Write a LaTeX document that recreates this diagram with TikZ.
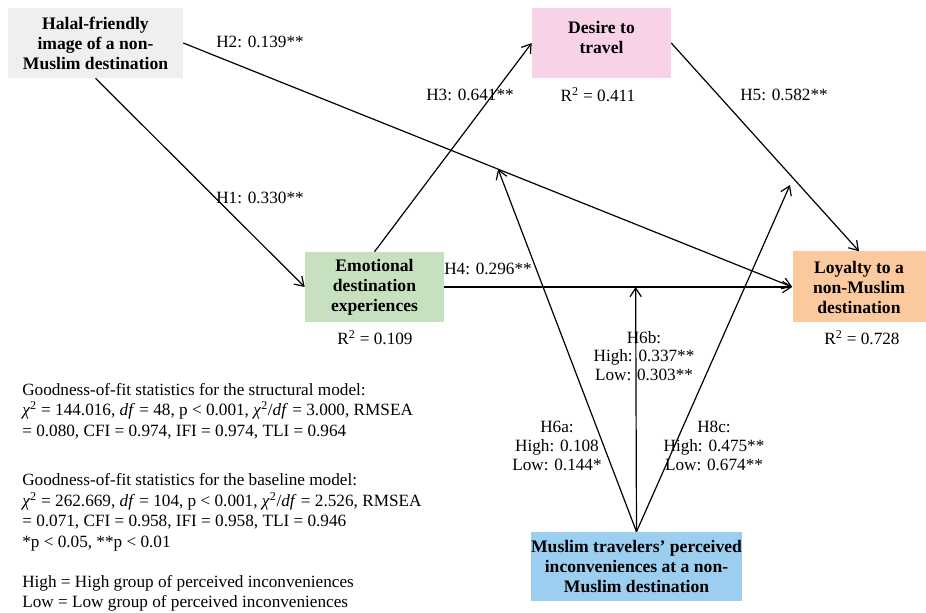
\documentclass[tikz,border=0pt]{standalone}
\usepackage{fontspec}
\setmainfont{Liberation Serif}
\usetikzlibrary{positioning,arrows.meta,calc}

\definecolor{halgray}{RGB}{239,239,239}
\definecolor{despink}{RGB}{248,210,230}
\definecolor{emogreen}{RGB}{199,225,192}
\definecolor{loypeach}{RGB}{250,202,158}
\definecolor{musblue}{RGB}{156,206,240}

\begin{document}
\begin{tikzpicture}[x=0.75pt,y=0.75pt,yscale=-1,xscale=1,
  box/.style={fill=#1, align=center, inner sep=0pt, font=\bfseries\fontsize{13.2}{15}\selectfont},
  lbl/.style={align=center, inner sep=1pt, font=\fontsize{12.9}{14}\selectfont},
  hyp/.style={-{Straight Barb[length=6.5pt,width=8.5pt]}, line width=0.9pt}]
\useasboundingbox (0,0) rectangle (926,613);

%Boxes
\node[box=halgray, minimum width=131.25pt, minimum height=52.5pt] (hal) at (95.5,43) {Halal-friendly\\image of a non-\\Muslim destination};
\node[box=despink, minimum width=104.25pt, minimum height=52.5pt] (des) at (601.5,43) {Desire to\\travel\\[-6pt]\mbox{}};
\node[box=emogreen, minimum width=104.25pt, minimum height=52.5pt] (emo) at (374.5,287) {Emotional\\destination\\experiences};
\node[box=loypeach, minimum width=99.75pt, minimum height=53.25pt] (loy) at (859,287) {Loyalty to a\\non-Muslim\\destination};
\node[box=musblue, minimum width=158.25pt, minimum height=51.75pt] (mus) at (636.5,566.5) {Muslim travelers’ perceived\\inconveniences at a non-\\Muslim destination};

%Points on the paths
\coordinate (m6a) at ($(hal.east)!0.517!(loy.west)$);
\coordinate (m6b) at ($(emo.east)!0.55!(loy.west)$);
\coordinate (m8c) at (790,185);

%Paths
\draw[hyp] (hal.south) -- (emo.west);
\draw[hyp] (hal.east) -- (loy.west);
\draw[hyp] (emo.north) -- (des.west);
\draw[hyp] (emo.east) -- (loy.west);
\draw[hyp] (des.east) -- (loy.north);
\draw[hyp] (mus.north) -- (m6a);
\draw[hyp] (mus.north) -- (m6b);
\draw[hyp] (mus.north) -- (m8c);

%Coefficients
\node[lbl] (h1) at (260,198) {H1: 0.330**};
\node[lbl] (h2) at (260,42) {H2: 0.139**};
\node[lbl] (h3) at (470,95) {H3: 0.641**};
\node[lbl] (h4) at (488,269) {H4: 0.296**};
\node[lbl] (h5) at (784,95) {H5: 0.582**};
\node[lbl] (h6a) at (557,446) {H6a:\\High: 0.108\\Low: 0.144*};
\node[lbl] (h6b) at (644,356) {H6b:\\High: 0.337**\\Low: 0.303**};
\node[lbl] (h8c) at (714,446) {H8c:\\High: 0.475**\\Low: 0.674**};
\node[lbl] (r2des) at (598,95) {R\textsuperscript{2} = 0.411};
\node[lbl] (r2emo) at (375,338) {R\textsuperscript{2} = 0.109};
\node[lbl] (r2loy) at (862,338) {R\textsuperscript{2} = 0.728};

%Fit statistics
\node[lbl, align=left, anchor=north west, inner sep=0pt, font=\fontsize{12.9}{15.3}\selectfont] (fit) at (22,383) {Goodness-of-fit statistics for the structural model:\\
\textit{χ}\textsuperscript{2} = 144.016, \textit{df} = 48, p < 0.001, \textit{χ}\textsuperscript{2}/\textit{df} = 3.000, RMSEA\\
= 0.080, CFI = 0.974, IFI = 0.974, TLI = 0.964\\[22pt]
Goodness-of-fit statistics for the baseline model:\\
\textit{χ}\textsuperscript{2} = 262.669, \textit{df} = 104, p < 0.001, \textit{χ}\textsuperscript{2}/\textit{df} = 2.526, RMSEA\\
= 0.071, CFI = 0.958, IFI = 0.958, TLI = 0.946\\
*p < 0.05, **p < 0.01\\[15pt]
High = High group of perceived inconveniences\\
Low = Low group of perceived inconveniences};
\end{tikzpicture}
\end{document}
